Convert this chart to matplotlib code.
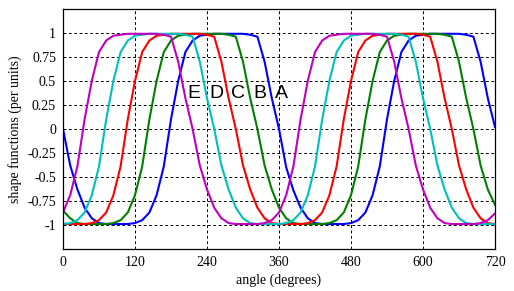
import numpy as np
import matplotlib
matplotlib.use("Agg")
import matplotlib.pyplot as plt

# angle samples, 0..720 deg every 12 deg
angle = np.arange(0, 721, 12)

# shape functions (per units)
shape_A = [0.00, -0.38, -0.63, -0.82, -0.93, -0.98, -0.99, -0.99, -0.99, -0.99,
           -0.98, -0.95, -0.87, -0.69, -0.39, 0.10, 0.50, 0.80, 0.92, 0.97,
           0.98, 0.99, 0.99, 0.99, 0.99, 0.99, 0.98, 0.96, 0.70, 0.32,
           0.00, -0.40, -0.64, -0.82, -0.93, -0.98, -0.99, -0.99, -0.99, -0.99,
           -0.98, -0.95, -0.87, -0.69, -0.39, 0.10, 0.50, 0.80, 0.92, 0.97,
           0.98, 0.99, 0.99, 0.99, 0.99, 0.99, 0.98, 0.96, 0.70, 0.32, 0.02]
shape_B = [-0.85, -0.93, -0.98, -0.99, -0.99, -0.99, -0.99, -0.98, -0.95, -0.87,
           -0.69, -0.39, 0.10, 0.50, 0.80, 0.92, 0.97, 0.98, 0.99, 0.99,
           0.99, 0.99, 0.99, 0.98, 0.96, 0.70, 0.32, 0.00, -0.38, -0.63,
           -0.82, -0.93, -0.98, -0.99, -0.99, -0.99, -0.99, -0.98, -0.95, -0.87,
           -0.69, -0.39, 0.10, 0.50, 0.80, 0.92, 0.97, 0.98, 0.99, 0.99,
           0.99, 0.99, 0.99, 0.98, 0.96, 0.70, 0.32, 0.00, -0.38, -0.63, -0.79]
shape_C = [-0.99, -0.99, -0.99, -0.99, -0.98, -0.95, -0.87, -0.69, -0.39, 0.10,
           0.50, 0.80, 0.92, 0.97, 0.98, 0.99, 0.99, 0.99, 0.99, 0.99,
           0.98, 0.96, 0.70, 0.32, 0.00, -0.38, -0.63, -0.82, -0.93, -0.98,
           -0.99, -0.99, -0.99, -0.99, -0.98, -0.95, -0.87, -0.69, -0.39, 0.10,
           0.50, 0.80, 0.92, 0.97, 0.98, 0.99, 0.99, 0.99, 0.99, 0.99,
           0.98, 0.96, 0.70, 0.32, 0.00, -0.38, -0.63, -0.82, -0.93, -0.98, -0.99]
shape_D = [-0.99, -0.98, -0.95, -0.87, -0.69, -0.39, 0.10, 0.50, 0.80, 0.92,
           0.97, 0.98, 0.99, 0.99, 0.99, 0.99, 0.99, 0.98, 0.96, 0.70,
           0.32, 0.00, -0.38, -0.63, -0.82, -0.93, -0.98, -0.99, -0.99, -0.99,
           -0.99, -0.98, -0.95, -0.87, -0.69, -0.39, 0.10, 0.50, 0.80, 0.92,
           0.97, 0.98, 0.99, 0.99, 0.99, 0.99, 0.99, 0.98, 0.96, 0.70,
           0.32, 0.00, -0.38, -0.63, -0.82, -0.93, -0.98, -0.99, -0.99, -0.99, -0.99]
shape_E = [-0.87, -0.69, -0.39, 0.10, 0.50, 0.80, 0.92, 0.97, 0.98, 0.99,
           0.99, 0.99, 0.99, 0.99, 0.98, 0.96, 0.70, 0.32, 0.00, -0.38,
           -0.63, -0.82, -0.93, -0.98, -0.99, -0.99, -0.99, -0.99, -0.98, -0.95,
           -0.87, -0.69, -0.39, 0.10, 0.50, 0.80, 0.92, 0.97, 0.98, 0.99,
           0.99, 0.99, 0.99, 0.99, 0.98, 0.96, 0.70, 0.32, 0.00, -0.38,
           -0.63, -0.82, -0.93, -0.98, -0.99, -0.99, -0.99, -0.99, -0.98, -0.95, -0.88]

names = ["A", "B", "C", "D", "E"]
colors = ["#0000ff", "#008000", "#ff0000", "#00bfbf", "#bf00bf"]
label_angle = [364, 328, 292, 256, 218]
label_value = 0.37

xticks = [0, 120, 240, 360, 480, 600, 720]
yticks = [-1, -0.75, -0.5, -0.25, 0, 0.25, 0.5, 0.75, 1]
ytick_labels = ["-1", "-0.75", "-0.5", "-0.25", "0", "0.25", "0.5", "0.75", "1"]

fig = plt.figure(figsize=(5.14, 2.91), dpi=100)
ax = fig.add_axes([63 / 514, 1 - 249 / 291, 432 / 514, 239.7 / 291])

for y, c in zip([shape_A, shape_B, shape_C, shape_D, shape_E], colors):
    ax.plot(angle, y, color=c, lw=1.5)

for n, xa in zip(names, label_angle):
    ax.text(xa, label_value, n, fontsize=14, family="Liberation Sans",
            ha="center", va="center", color="black")

ax.set_xlim(0, 720)
ax.set_ylim(-1.25, 1.245)
ax.set_xticks(xticks)
ax.set_yticks(yticks)
ax.set_yticklabels(ytick_labels)
ax.grid(True, color="black", linestyle=(0, (3, 2.5)), lw=0.7)
ax.set_axisbelow(True)
ax.tick_params(length=0, labelsize=10, pad=5)
for lab in ax.get_xticklabels() + ax.get_yticklabels():
    lab.set_family("Liberation Serif")
for s in ax.spines.values():
    s.set_linewidth(0.9)
    s.set_color("black")

ax.set_xlabel("angle (degrees)", family="Liberation Serif", fontsize=10, labelpad=3)
ax.set_ylabel("shape functions (per units)", family="Liberation Serif", fontsize=10, labelpad=4)

fig.savefig("out.png", dpi=100)
